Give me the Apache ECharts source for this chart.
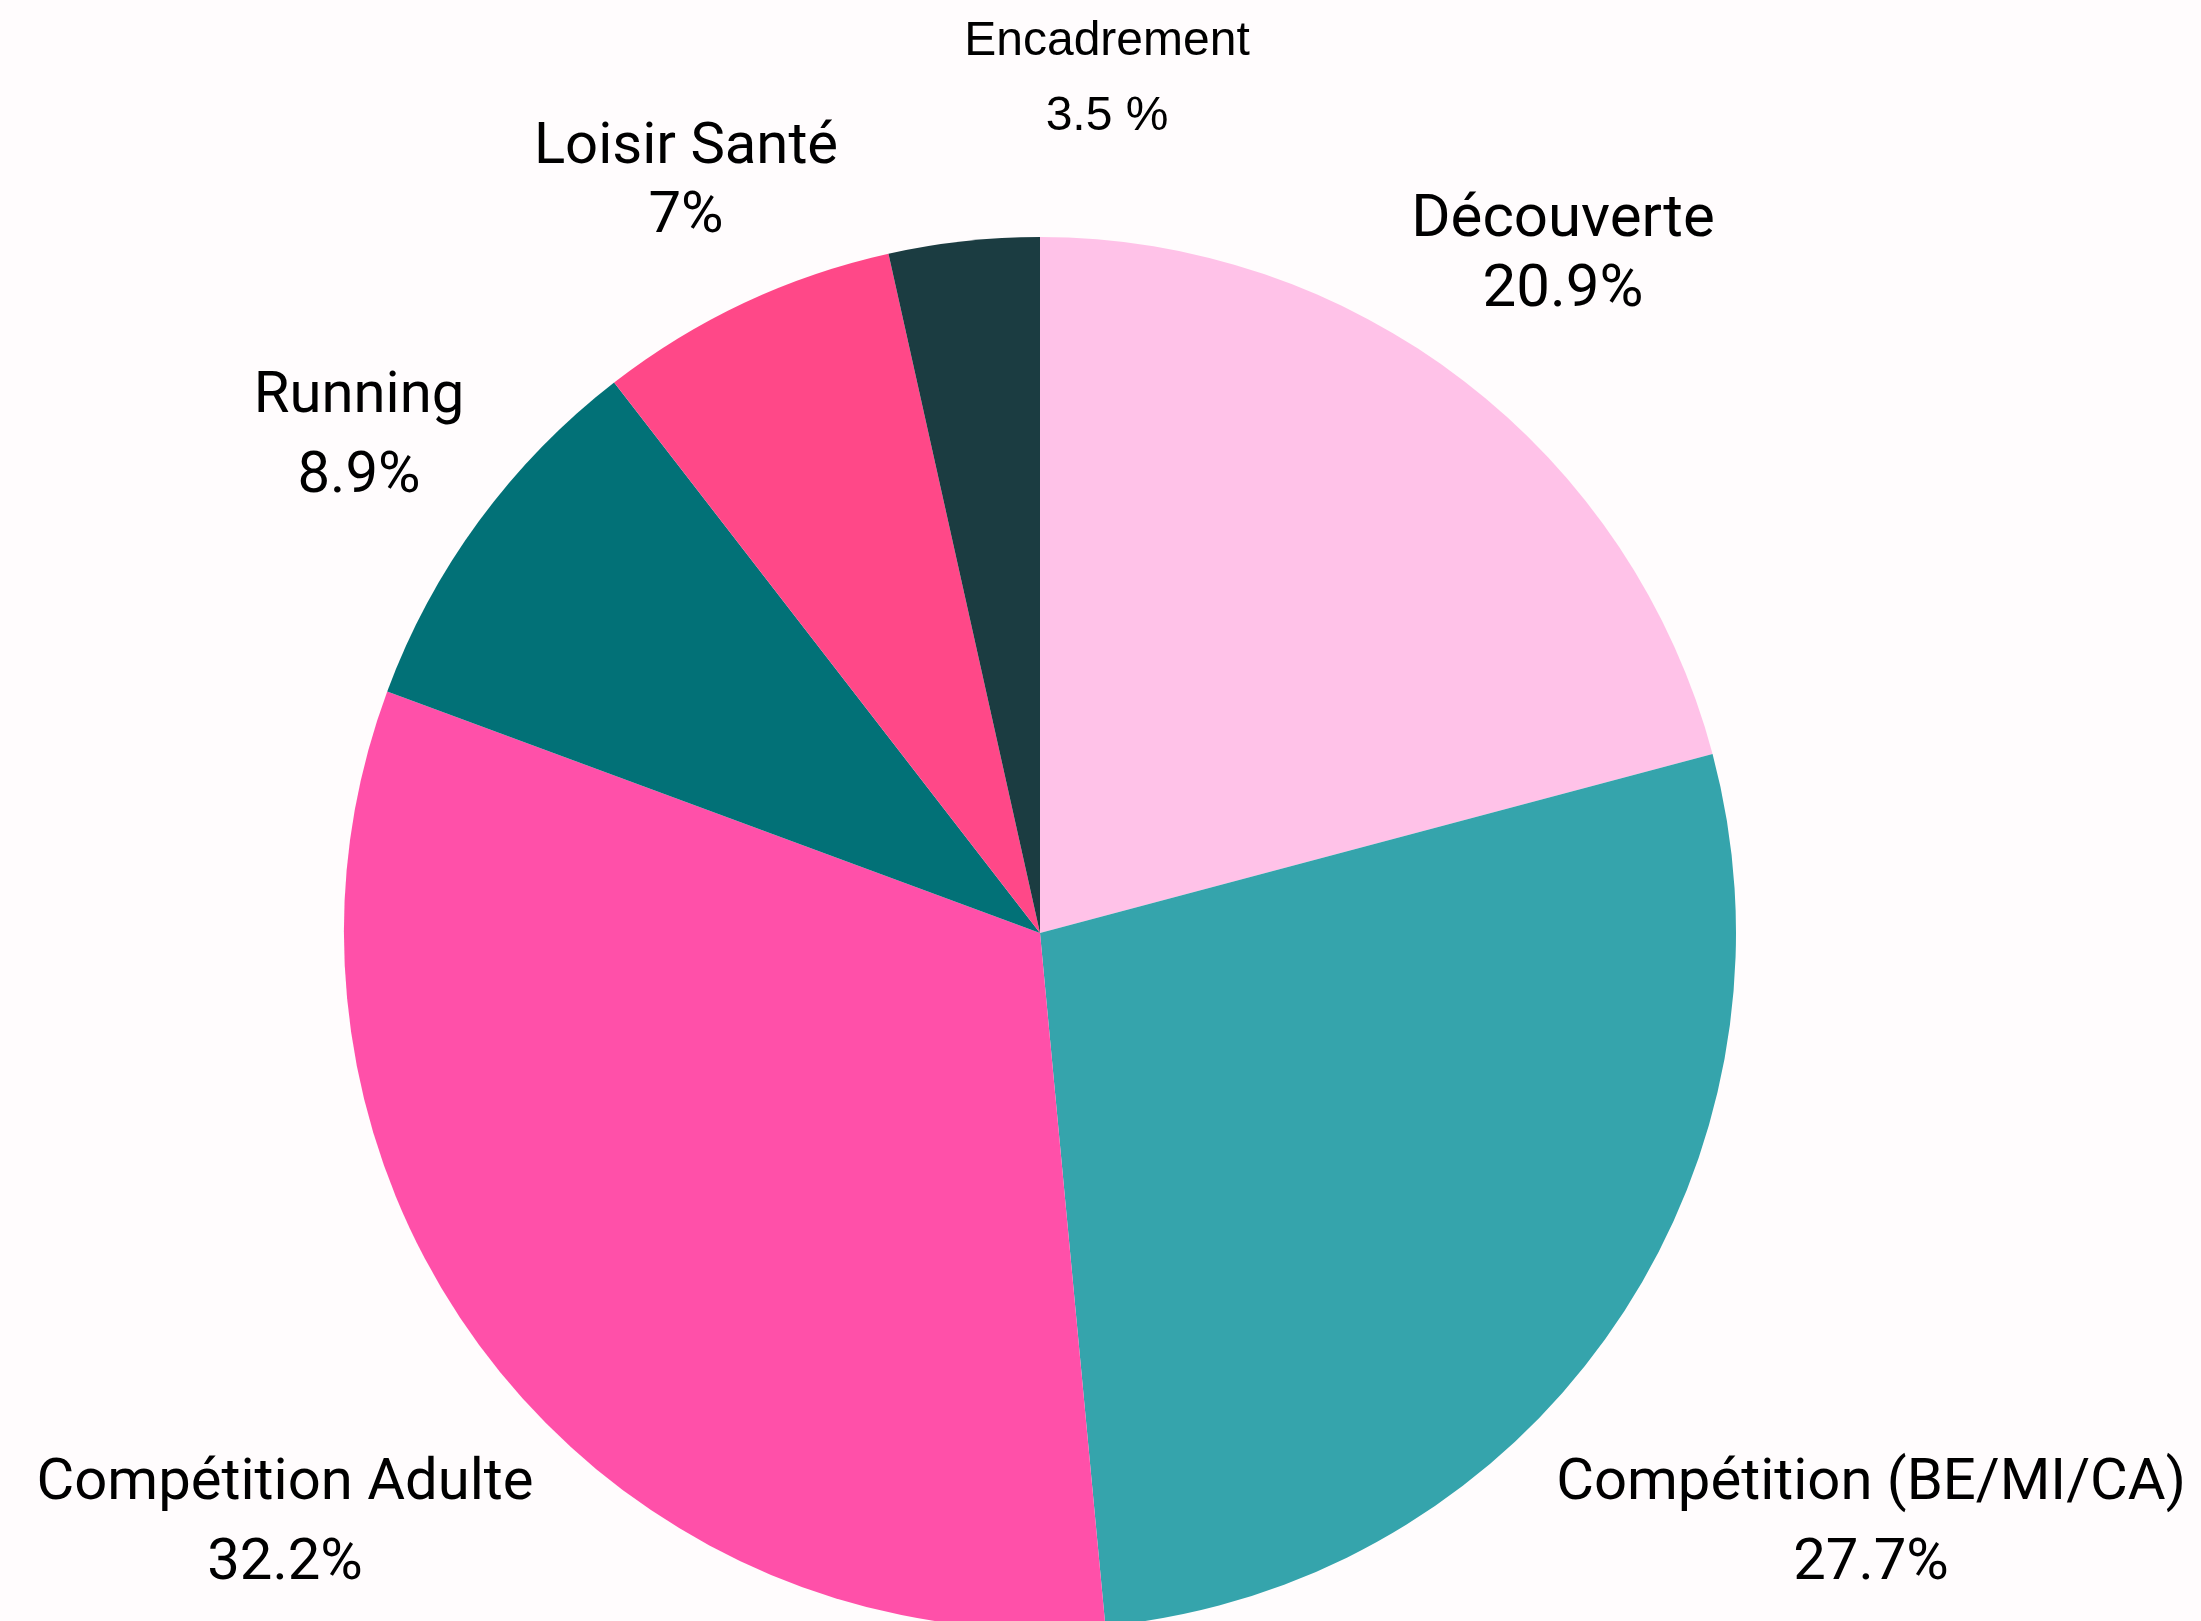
<!DOCTYPE html>
<html>
<head>
<meta charset="utf-8">
<script src="https://cdn.jsdelivr.net/npm/echarts@6/dist/echarts.min.js"></script>
<style>
  html, body { margin: 0; padding: 0; background: #fffcfd; }
  #chart { width: 2201px; height: 1621px; }
</style>
</head>
<body>
<div id="chart"></div>
<script>
// slices, clockwise from 12 o'clock
var categories = ['Découverte', 'Compétition (BE/MI/CA)', 'Compétition Adulte', 'Running', 'Loisir Santé', 'Encadrement'];
var values = [20.9, 27.7, 32.2, 8.9, 7, 3.5];
var valueLabels = ['20.9%', '27.7%', '32.2%', '8.9%', '7%', '3.5 %'];
var colors = ['#ffc2e8', '#35a4ac', '#ff50a9', '#027177', '#ff4888', '#1b3c41'];

// where each label block sits (centre), and its text look
var labelPos = [[1563, 256], [1871, 1524], [285, 1524], [359, 437], [686, 183], [1107, 79]];
var labelStyle = [
	{ fontFamily: 'Roboto', fontSize: 60, lineHeight: 70 },
	{ fontFamily: 'Roboto', fontSize: 58, lineHeight: 80 },
	{ fontFamily: 'Roboto', fontSize: 58, lineHeight: 80 },
	{ fontFamily: 'Roboto', fontSize: 58, lineHeight: 80 },
	{ fontFamily: 'Roboto', fontSize: 58, lineHeight: 69 },
	{ fontFamily: 'Liberation Sans', fontSize: 48, lineHeight: 75 }
];

var data = [];
for (var i = 0; i < categories.length; i++) {
	var st = labelStyle[i];
	data.push({
		name: categories[i],
		value: values[i],
		itemStyle: { color: colors[i] },
		label: {
			fontFamily: st.fontFamily,
			fontSize: st.fontSize,
			lineHeight: st.lineHeight
		}
	});
}

var myChart = echarts.init(document.getElementById('chart'));

var option = {
	backgroundColor: '#fffcfd',
	animation: false,
	series: [
		{
			type: 'pie',
			center: [1040, 933],
			radius: [0, 696],
			startAngle: 90,
			clockwise: true,
			data: data,
			label: {
				show: true,
				position: 'outside',
				color: '#000',
				fontWeight: 'normal',
				align: 'center',
				overflow: 'none',
				formatter: function (p) {
					return p.name + '\n' + valueLabels[p.dataIndex];
				}
			},
			labelLine: { show: false },
			labelLayout: function (params) {
				var pos = labelPos[params.dataIndex];
				return {
					x: pos[0],
					y: pos[1],
					align: 'center',
					verticalAlign: 'middle'
				};
			},
			emphasis: { disabled: true }
		}
	]
};

myChart.setOption(option);
</script>
</body>
</html>
